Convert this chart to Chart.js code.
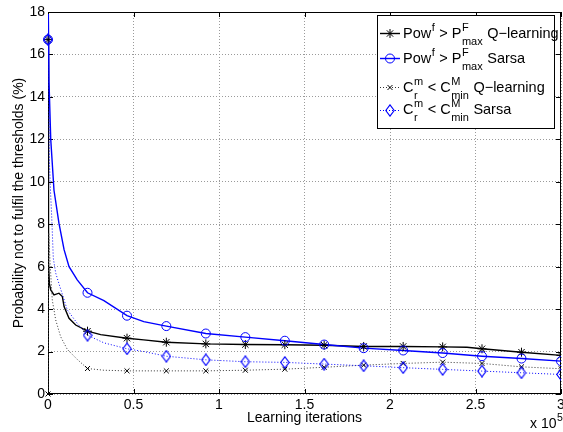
<!DOCTYPE html>
<html>
<head>
<meta charset="utf-8">
<script src="https://cdn.jsdelivr.net/npm/chart.js@4.4.0/dist/chart.umd.min.js"></script>
<style>
  html, body { margin: 0; padding: 0; background: #fff; }
</style>
</head>
<body>
<canvas id="chart" width="563" height="432"></canvas>
<script>
// iterations are in units of 1e5 (axis shows "x 10^5")
var markerIter = [0, 0.231, 0.462, 0.692, 0.923, 1.154, 1.385, 1.615, 1.846, 2.077, 2.308, 2.538, 2.769, 3.0];

// values at the marker positions (%)
var powQMarks = [16.7, 2.96, 2.63, 2.44, 2.36, 2.33, 2.32, 2.30, 2.24, 2.24, 2.22, 2.13, 1.97, 1.82];
var powSMarks = [16.7, 4.77, 3.69, 3.20, 2.85, 2.68, 2.51, 2.33, 2.16, 2.05, 1.93, 1.78, 1.67, 1.55];
var crQMarks  = [0, 1.20, 1.09, 1.09, 1.09, 1.12, 1.17, 1.26, 1.36, 1.44, 1.50, 1.44, 1.28, 1.19];
var crSMarks  = [16.7, 2.77, 2.13, 1.78, 1.61, 1.52, 1.49, 1.41, 1.33, 1.24, 1.16, 1.08, 1.00, 0.92];

// the full curves
var powQLineX = [0, 0.003, 0.008, 0.016, 0.035, 0.064, 0.084, 0.094, 0.123, 0.162, 0.231, 0.308, 0.462, 0.56, 0.692, 0.923, 1.154, 1.385, 1.615, 1.846, 2.077, 2.308, 2.45, 2.538, 2.769, 3.0];
var powQLineY = [16.7, 6.2, 5.2, 4.9, 4.67, 4.75, 4.59, 4.12, 3.57, 3.25, 2.96, 2.8, 2.63, 2.55, 2.44, 2.36, 2.33, 2.32, 2.30, 2.24, 2.24, 2.22, 2.2, 2.13, 1.97, 1.82];

var powSLineX = [0, 0.002, 0.006, 0.016, 0.035, 0.064, 0.094, 0.123, 0.171, 0.231, 0.327, 0.462, 0.56, 0.692, 0.923, 1.154, 1.385, 1.615, 1.846, 2.077, 2.308, 2.538, 2.769, 3.0];
var powSLineY = [16.7, 17.9, 14.7, 12.0, 9.6, 8.05, 6.8, 6.0, 5.38, 4.77, 4.4, 3.69, 3.41, 3.20, 2.85, 2.68, 2.51, 2.33, 2.16, 2.05, 1.93, 1.78, 1.67, 1.55];

var crQLineX = [0, 0.004, 0.012, 0.025, 0.045, 0.074, 0.113, 0.171, 0.231, 0.327, 0.462, 0.692, 0.923, 1.154, 1.385, 1.615, 1.846, 2.077, 2.308, 2.538, 2.769, 3.0];
var crQLineY = [0, 7.6, 6.2, 4.43, 3.49, 2.7, 2.1, 1.63, 1.2, 1.12, 1.09, 1.09, 1.09, 1.12, 1.17, 1.26, 1.36, 1.44, 1.50, 1.44, 1.28, 1.19];

var crSLineX = [0, 0.008, 0.015, 0.022, 0.031, 0.045, 0.064, 0.113, 0.171, 0.231, 0.327, 0.462, 0.56, 0.692, 0.923, 1.154, 1.385, 1.615, 1.846, 2.077, 2.308, 2.538, 2.769, 3.0];
var crSLineY = [16.7, 11, 9.5, 8.3, 6.4, 5.7, 5.2, 3.96, 3.33, 2.77, 2.41, 2.13, 2.0, 1.78, 1.61, 1.52, 1.49, 1.41, 1.33, 1.24, 1.16, 1.08, 1.00, 0.92];

var xTickStep = 0.5;
var yTickStep = 2;

// legend texts: plain strings, or {sup, sub} stacked pieces
var legendRows = [
  ['Pow', {sup: 'f'}, ' > P', {sup: 'F', sub: 'max'}, ' Q\u2212learning'],
  ['Pow', {sup: 'f'}, ' > P', {sup: 'F', sub: 'max'}, ' Sarsa'],
  ['C', {sup: 'm', sub: 'r'}, ' < C', {sup: 'M', sub: 'min'}, ' Q\u2212learning'],
  ['C', {sup: 'm', sub: 'r'}, ' < C', {sup: 'M', sub: 'min'}, ' Sarsa']
];

var FONT = '"Liberation Sans", Arial, Helvetica, sans-serif';
var BLUE = '#0000ff';

function pts(xs, ys) {
  return xs.map(function (x, i) { return {x: x, y: ys[i]}; });
}

// tall diamond like the matlab one
function diamondCanvas() {
  var c = document.createElement('canvas');
  c.width = 10; c.height = 13;
  var g = c.getContext('2d');
  g.strokeStyle = BLUE;
  g.lineWidth = 1.1;
  g.beginPath();
  g.moveTo(5, 0.8); g.lineTo(9.2, 6.5); g.lineTo(5, 12.2); g.lineTo(0.8, 6.5);
  g.closePath();
  g.stroke();
  return c;
}
var diamond = diamondCanvas();

var markClip = {left: 10, top: 10, right: 0, bottom: 10};

var datasets = [
  // lines
  {data: pts(powQLineX, powQLineY), showLine: true, borderColor: '#000', borderWidth: 1.4, pointRadius: 0, order: 8},
  {data: pts(powSLineX, powSLineY), showLine: true, borderColor: BLUE, borderWidth: 1.4, pointRadius: 0, order: 7},
  {data: pts(crQLineX, crQLineY), showLine: true, borderColor: '#333', borderWidth: 1, borderDash: [1, 2], pointRadius: 0, order: 6},
  {data: pts(crSLineX, crSLineY), showLine: true, borderColor: BLUE, borderWidth: 1, borderDash: [1, 2], pointRadius: 0, order: 5},
  // markers
  {data: pts(markerIter, powQMarks), showLine: false, pointStyle: 'star', pointRadius: 4.5, pointBorderColor: '#000', pointBorderWidth: 1, pointBackgroundColor: 'rgba(0,0,0,0)', clip: markClip, order: 4},
  {data: pts(markerIter, powSMarks), showLine: false, pointStyle: 'circle', pointRadius: 4.5, pointBorderColor: BLUE, pointBorderWidth: 1, pointBackgroundColor: 'rgba(0,0,0,0)', clip: markClip, order: 3},
  {data: pts(markerIter, crQMarks), showLine: false, pointStyle: 'crossRot', pointRadius: 3.5, pointBorderColor: '#000', pointBorderWidth: 1, pointBackgroundColor: 'rgba(0,0,0,0)', clip: markClip, order: 2},
  {data: pts(markerIter, crSMarks), showLine: false, pointStyle: diamond, pointRadius: 5, clip: markClip, order: 1}
];

function drawRich(ctx, x, y, parts) {
  parts.forEach(function (p) {
    if (typeof p === 'string') {
      ctx.font = '14.5px ' + FONT;
      ctx.fillText(p, x, y);
      x += ctx.measureText(p).width;
    } else {
      ctx.font = '11px ' + FONT;
      var w = 0;
      if (p.sup) { ctx.fillText(p.sup, x + 0.5, y - 7); w = ctx.measureText(p.sup).width; }
      if (p.sub) { ctx.fillText(p.sub, x + 0.5, y + 7); w = Math.max(w, ctx.measureText(p.sub).width); }
      x += w + 1;
    }
  });
}

function legendMark(ctx, i, x, y) {
  ctx.save();
  ctx.setLineDash([]);
  ctx.lineWidth = 1;
  ctx.fillStyle = 'rgba(0,0,0,0)';
  if (i === 3) {
    ctx.drawImage(diamond, x - diamond.width / 2, y - diamond.height / 2);
  } else {
    var st = ['star', 'circle', 'crossRot'][i];
    var r = [4.5, 4.5, 3.5][i];
    ctx.strokeStyle = i === 1 ? BLUE : '#000';
    Chart.helpers.drawPoint(ctx, {pointStyle: st, radius: r, borderWidth: 1, rotation: 0}, x, y);
  }
  ctx.restore();
}

var matlabBits = {
  id: 'matlabBits',
  beforeDatasetsDraw: function (chart) {
    var ctx = chart.ctx, a = chart.chartArea;
    var xs = chart.scales.x, ys = chart.scales.y;
    ctx.save();
    ctx.strokeStyle = '#000';
    ctx.lineWidth = 1;
    ctx.beginPath();
    xs.ticks.forEach(function (t) {
      var px = Math.round(xs.getPixelForValue(t.value)) + 0.5;
      ctx.moveTo(px, a.bottom); ctx.lineTo(px, a.bottom - 5);
      ctx.moveTo(px, a.top); ctx.lineTo(px, a.top + 5);
    });
    ys.ticks.forEach(function (t) {
      var py = Math.round(ys.getPixelForValue(t.value)) + 0.5;
      ctx.moveTo(a.left, py); ctx.lineTo(a.left + 5, py);
      ctx.moveTo(a.right, py); ctx.lineTo(a.right - 5, py);
    });
    ctx.stroke();
    ctx.strokeRect(a.left + 0.5, a.top + 0.5, a.right - a.left - 1, a.bottom - a.top - 1);
    ctx.restore();
  },
  afterDraw: function (chart) {
    var ctx = chart.ctx, a = chart.chartArea;
    ctx.save();
    // legend box
    var bx = a.right - 184, by = a.top + 3, bw = 177, bh = 113;
    ctx.fillStyle = '#fff';
    ctx.fillRect(bx, by, bw, bh);
    ctx.strokeStyle = '#000';
    ctx.lineWidth = 1;
    ctx.strokeRect(bx + 0.5, by + 0.5, bw, bh);

    var rowY = [by + 18, by + 43, by + 72, by + 95];
    var textY = [by + 23, by + 48, by + 77, by + 99];
    var lineStyles = [
      {c: '#000', w: 1.4, d: []},
      {c: BLUE, w: 1.4, d: []},
      {c: '#333', w: 1, d: [1, 2]},
      {c: BLUE, w: 1, d: [1, 2]}
    ];
    for (var i = 0; i < 4; i++) {
      var s = lineStyles[i];
      ctx.save();
      ctx.strokeStyle = s.c;
      ctx.lineWidth = s.w;
      ctx.setLineDash(s.d);
      ctx.beginPath();
      ctx.moveTo(bx + 3, rowY[i] + 0.5);
      ctx.lineTo(bx + 23, rowY[i] + 0.5);
      ctx.stroke();
      ctx.restore();
      legendMark(ctx, i, bx + 13, rowY[i] + 0.5);
      ctx.fillStyle = '#000';
      ctx.textBaseline = 'alphabetic';
      ctx.textAlign = 'left';
      drawRich(ctx, bx + 26, textY[i], legendRows[i]);
    }

    // x 10^5 exponent label
    ctx.fillStyle = '#000';
    ctx.textBaseline = 'alphabetic';
    ctx.font = '14px ' + FONT;
    var ex = a.right - 31, ey = 428;
    ctx.fillText('x 10', ex, ey);
    var w = ctx.measureText('x 10').width;
    ctx.font = '10.5px ' + FONT;
    ctx.fillText('5', ex + w + 0.5, ey - 7);
    ctx.restore();
  }
};

var tickFont = {family: FONT, size: 14};

new Chart(document.getElementById('chart').getContext('2d'), {
  type: 'scatter',
  data: {datasets: datasets},
  options: {
    responsive: false,
    animation: false,
    layout: {autoPadding: false, padding: {left: 0, right: 2, top: 12, bottom: 0}},
    plugins: {legend: {display: false}, tooltip: {enabled: false}},
    scales: {
      x: {
        type: 'linear', min: 0, max: 3,
        ticks: {
          stepSize: xTickStep, autoSkip: false, maxRotation: 0, padding: 0,
          color: '#000', font: tickFont,
          callback: function (v) { return String(v); }
        },
        grid: {color: '#9a9a9a', lineWidth: 1, drawTicks: true, tickLength: 3, tickColor: 'rgba(0,0,0,0)'},
        border: {display: false, dash: [1, 2]},
        title: {display: true, text: 'Learning iterations', color: '#000', font: tickFont, padding: {top: 0, bottom: 5.6}},
        afterFit: function (s) { s.height = 38; s.paddingLeft = 0; s.paddingRight = 0; }
      },
      y: {
        type: 'linear', min: 0, max: 18,
        ticks: {
          stepSize: yTickStep, autoSkip: false, padding: 3,
          color: '#000', font: tickFont,
          callback: function (v) { return String(v); }
        },
        grid: {color: '#9a9a9a', lineWidth: 1, drawTicks: false},
        border: {display: false, dash: [1, 2]},
        title: {display: true, text: 'Probability not to fulfil the thresholds (%)', color: '#000', font: tickFont, padding: {top: 10.6, bottom: 0}},
        afterFit: function (s) { s.width = 48; s.paddingTop = 0; s.paddingBottom = 0; }
      }
    }
  },
  plugins: [matlabBits]
});
</script>
</body>
</html>
